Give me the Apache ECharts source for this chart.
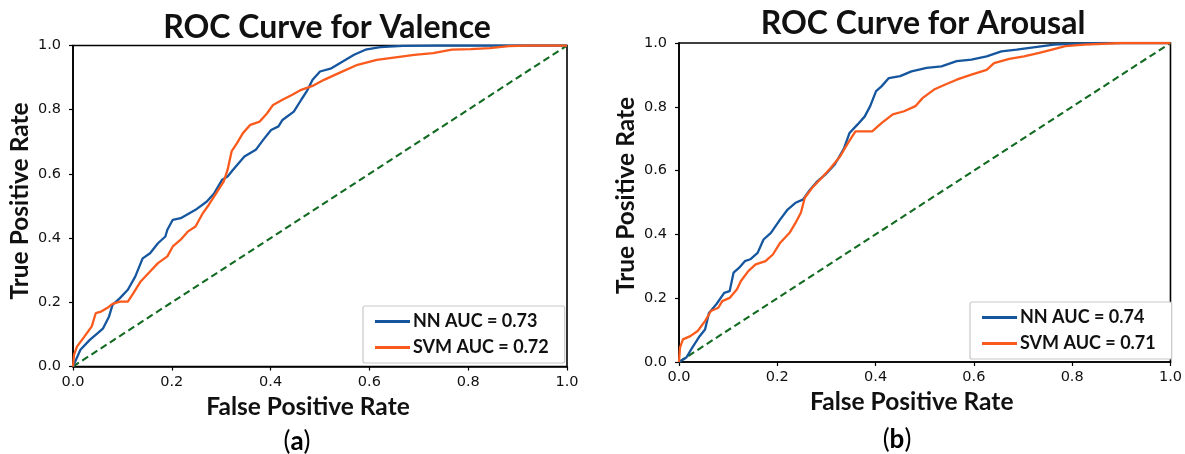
<!DOCTYPE html>
<html>
<head>
<meta charset="utf-8">
<script src="https://cdn.jsdelivr.net/npm/echarts@6/dist/echarts.min.js"></script>
<style>
  html, body { margin: 0; padding: 0; background: #fff; }
  #chart { width: 1185px; height: 454px; }
</style>
</head>
<body>
<div id="chart"></div>
<script>
// ROC curves: [false positive rate, true positive rate]
const valenceNN = [
  [0,0],[0.015,0.052],[0.034,0.083],[0.05,0.104],[0.061,0.119],[0.073,0.156],[0.08,0.192],
  [0.095,0.213],[0.111,0.239],[0.126,0.28],[0.141,0.337],[0.156,0.353],[0.172,0.384],
  [0.187,0.405],[0.191,0.426],[0.202,0.457],[0.218,0.462],[0.248,0.488],[0.271,0.514],
  [0.286,0.54],[0.302,0.582],[0.313,0.592],[0.324,0.613],[0.347,0.654],[0.37,0.675],
  [0.385,0.706],[0.401,0.737],[0.416,0.748],[0.424,0.768],[0.447,0.794],[0.462,0.831],
  [0.473,0.857],[0.485,0.893],[0.5,0.919],[0.523,0.929],[0.546,0.95],[0.569,0.971],
  [0.592,0.987],[0.622,0.995],[0.668,0.999],[0.737,1],[1,1]
];
const valenceSVM = [
  [0,0],[0.002,0.036],[0.008,0.062],[0.023,0.093],[0.038,0.125],[0.046,0.166],[0.057,0.171],
  [0.069,0.182],[0.08,0.195],[0.095,0.202],[0.111,0.202],[0.122,0.228],[0.137,0.265],
  [0.156,0.296],[0.172,0.322],[0.191,0.343],[0.202,0.374],[0.218,0.395],[0.233,0.421],
  [0.248,0.436],[0.263,0.478],[0.275,0.504],[0.29,0.54],[0.305,0.576],[0.313,0.613],
  [0.321,0.67],[0.332,0.696],[0.344,0.727],[0.359,0.753],[0.378,0.763],[0.393,0.789],
  [0.405,0.815],[0.424,0.831],[0.443,0.846],[0.462,0.862],[0.485,0.874],[0.508,0.893],
  [0.538,0.914],[0.576,0.94],[0.615,0.955],[0.653,0.963],[0.691,0.971],[0.729,0.976],
  [0.767,0.987],[0.805,0.989],[0.844,0.992],[0.882,0.998],[0.92,1],[1,1]
];
const arousalNN = [
  [0,0],[0.015,0.014],[0.027,0.045],[0.042,0.081],[0.053,0.102],[0.061,0.154],[0.076,0.181],
  [0.092,0.217],[0.103,0.222],[0.111,0.28],[0.122,0.295],[0.134,0.316],[0.145,0.322],
  [0.16,0.342],[0.172,0.384],[0.187,0.405],[0.206,0.447],[0.221,0.478],[0.237,0.499],
  [0.252,0.509],[0.267,0.541],[0.282,0.567],[0.298,0.588],[0.317,0.619],[0.336,0.671],
  [0.347,0.718],[0.363,0.744],[0.378,0.77],[0.389,0.802],[0.401,0.849],[0.412,0.864],
  [0.427,0.89],[0.45,0.896],[0.473,0.911],[0.504,0.922],[0.534,0.927],[0.565,0.943],
  [0.595,0.948],[0.626,0.958],[0.656,0.974],[0.687,0.979],[0.725,0.987],[0.763,0.995],
  [0.809,0.998],[0.863,1],[1,1]
];
const arousalSVM = [
  [0,0],[0.002,0.045],[0.008,0.071],[0.023,0.081],[0.038,0.097],[0.053,0.128],[0.065,0.16],
  [0.08,0.17],[0.088,0.191],[0.103,0.201],[0.118,0.228],[0.126,0.254],[0.141,0.285],
  [0.156,0.306],[0.176,0.316],[0.191,0.337],[0.206,0.374],[0.225,0.405],[0.237,0.436],
  [0.248,0.468],[0.256,0.515],[0.271,0.546],[0.29,0.577],[0.309,0.609],[0.328,0.645],
  [0.344,0.687],[0.359,0.723],[0.374,0.723],[0.393,0.723],[0.412,0.749],[0.435,0.776],
  [0.458,0.786],[0.481,0.802],[0.496,0.828],[0.519,0.854],[0.542,0.87],[0.565,0.885],
  [0.595,0.901],[0.626,0.916],[0.641,0.937],[0.672,0.95],[0.702,0.958],[0.733,0.969],
  [0.763,0.981],[0.786,0.99],[0.824,0.995],[0.901,1],[1,1]
];
const chanceLine = [[0,0],[1,1]];

const panelTitles = ['ROC Curve for Valence', 'ROC Curve for Arousal'];
const panelTags = ['a', 'b'];
const legendNames = [
  ['NN AUC = 0.73', 'SVM AUC = 0.72'],
  ['NN AUC = 0.74', 'SVM AUC = 0.71']
];
const curves = [[valenceNN, valenceSVM], [arousalNN, arousalSVM]];

const NN_COLOR = '#15569f';
const SVM_COLOR = '#fa5a1c';
const CHANCE_COLOR = '#136b22';
const LABEL_FONT = 'Lato';
const TICK_FONT = 'DejaVu Sans';

// panel geometry
const panels = [
  { left: 73, top: 45.5, width: 494, height: 321, titleX: 322, titleTop: 7,
    legend: { left: 363, top: 306 }, tagX: 297, tagY: 442, xNamePad: 24, yNamePad: 10 },
  { left: 679, top: 43, width: 492, height: 319, titleX: 918, titleTop: 3,
    legend: { left: 970, top: 302 }, tagX: 897, tagY: 440, xNamePad: 26, yNamePad: 14 }
];

const grids = [], xAxes = [], yAxes = [], series = [], legends = [], titles = [], graphics = [];

panels.forEach((p, i) => {
  grids.push({
    left: p.left, top: p.top, width: p.width, height: p.height,
    show: true, borderColor: '#000', borderWidth: 1.6, backgroundColor: '#fff'
  });
  const axisCommon = {
    type: 'value', min: 0, max: 1, interval: 0.2, gridIndex: i,
    splitLine: { show: false },
    axisLine: { show: true, lineStyle: { color: '#000', width: 1.6 } },
    axisTick: { show: true, inside: false, length: 4, lineStyle: { color: '#000', width: 1.2 } },
    axisLabel: {
      color: '#111', fontFamily: TICK_FONT, fontSize: 14.5,
      formatter: v => v.toFixed(1)
    },
    nameLocation: 'middle',
    nameTextStyle: { fontFamily: LABEL_FONT, fontWeight: 'bold', fontSize: 24.5, color: '#111' }
  };
  xAxes.push(Object.assign({}, axisCommon, {
    name: 'False Positive Rate', nameGap: 27,
    axisLabel: Object.assign({}, axisCommon.axisLabel, { margin: 8 }),
    nameTextStyle: Object.assign({}, axisCommon.nameTextStyle, { padding: [0, p.xNamePad, 0, 0] })
  }));
  yAxes.push(Object.assign({}, axisCommon, {
    name: 'True Positive Rate', nameGap: 40, nameRotate: 90,
    axisLabel: Object.assign({}, axisCommon.axisLabel, { margin: 12 }),
    nameTextStyle: Object.assign({}, axisCommon.nameTextStyle, { padding: [0, 0, 0, p.yNamePad] })
  }));

  const [nn, svm] = curves[i];
  const lineSeries = (name, data, color) => ({
    name, type: 'line', xAxisIndex: i, yAxisIndex: i, data,
    symbol: 'none', smooth: false, animation: false,
    lineStyle: { color, width: 2.3 }, itemStyle: { color }, z: 3
  });
  series.push(lineSeries(legendNames[i][0], nn, NN_COLOR));
  series.push(lineSeries(legendNames[i][1], svm, SVM_COLOR));
  series.push({
    type: 'line', xAxisIndex: i, yAxisIndex: i, data: chanceLine,
    symbol: 'none', animation: false, silent: true, z: 2,
    lineStyle: { color: CHANCE_COLOR, width: 2.1, type: [7, 4] }
  });

  legends.push({
    data: legendNames[i], orient: 'vertical',
    left: p.legend.left, top: p.legend.top,
    icon: 'rect', itemWidth: 35, itemHeight: 3,
    padding: [5, 16, 5, 12], itemGap: 5,
    backgroundColor: '#fff', borderColor: '#c8c8c8', borderWidth: 1.2, borderRadius: 2,
    textStyle: { fontFamily: LABEL_FONT, fontWeight: 'bold', fontSize: 18, color: '#111',
                 lineHeight: 21, padding: [0, 0, 0, -2] },
    selectedMode: false
  });

  titles.push({
    text: panelTitles[i], left: p.titleX, top: p.titleTop, textAlign: 'center',
    textStyle: { fontFamily: LABEL_FONT, fontWeight: 'bold', fontSize: 32, color: '#111' }
  });

  graphics.push({
    type: 'text', x: p.tagX, y: p.tagY,
    style: {
      text: '{p|(}{t|' + panelTags[i] + '}{p|)}',
      align: 'center', verticalAlign: 'middle',
      rich: {
        p: { fontFamily: LABEL_FONT, fontSize: 26, color: '#111' },
        t: { fontFamily: LABEL_FONT, fontSize: 26, fontWeight: 'bold', color: '#111' }
      }
    }
  });
});

const chart = echarts.init(document.getElementById('chart'), null, { renderer: 'canvas' });
chart.setOption({
  backgroundColor: '#fff',
  animation: false,
  title: titles,
  grid: grids,
  xAxis: xAxes,
  yAxis: yAxes,
  legend: legends,
  series: series,
  graphic: graphics
});
</script>
</body>
</html>
